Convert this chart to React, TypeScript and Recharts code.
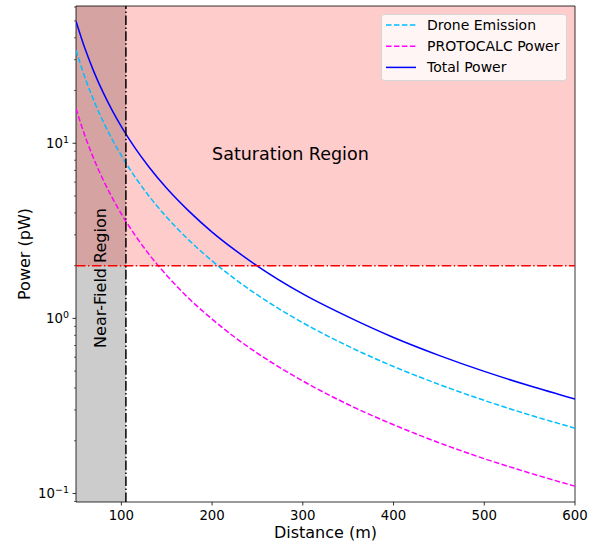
import React from 'react';
import {
  LineChart,
  Line,
  XAxis,
  YAxis,
  ReferenceArea,
  ReferenceLine,
  ReferenceDot,
  Legend,
  Label,
} from 'recharts';

const distance = [50, 60, 70, 80, 90, 100, 115, 130, 150, 175, 200, 225, 250, 300, 350, 400, 450, 500, 550, 600];
const droneEmission = [34.0, 23.6, 17.35, 13.28, 10.49, 8.5, 6.43, 5.03, 3.78, 2.78, 2.13, 1.68, 1.36, 0.944, 0.694, 0.531, 0.42, 0.34, 0.281, 0.236];
const protocalcPower = [15.8, 10.97, 8.06, 6.17, 4.88, 3.95, 2.99, 2.34, 1.76, 1.29, 0.99, 0.78, 0.632, 0.439, 0.322, 0.247, 0.195, 0.158, 0.131, 0.11];
const totalPower = [49.8, 34.6, 25.4, 19.45, 15.37, 12.45, 9.41, 7.37, 5.53, 4.07, 3.11, 2.46, 1.99, 1.38, 1.02, 0.778, 0.615, 0.498, 0.412, 0.346];

const xTicks = [100, 200, 300, 400, 500, 600];
const yTicks = [
  0.09, 0.1, 0.2, 0.3, 0.4, 0.5, 0.6, 0.7, 0.8, 0.9,
  1, 2, 3, 4, 5, 6, 7, 8, 9,
  10, 20, 30, 40, 50, 60,
];
const xDomain = [50, 600];
const yDomain = [0.0894, 60.8];
const nearFieldLimit = 105;
const saturationLevel = 2;

const data = distance.map((d, i) => ({
  distance: d,
  drone: droneEmission[i],
  protocalc: protocalcPower[i],
  total: totalPower[i],
}));

const FONT = '"DejaVu Sans", sans-serif';

const YTick = (props: any) => {
  const { x, y, payload } = props;
  const v = payload.value;
  const exp = Math.round(Math.log10(v));
  const isMajor = Math.abs(v - Math.pow(10, exp)) < 1e-9;
  if (!isMajor) {
    return <line x1={x - 2} x2={x} y1={y} y2={y} stroke="#000" strokeWidth={0.6} />;
  }
  const expStr = exp < 0 ? '\u2212' + Math.abs(exp) : String(exp);
  return (
    <g>
      <line x1={x - 3.5} x2={x} y1={y} y2={y} stroke="#000" strokeWidth={0.8} />
      <text x={x - 7} y={y + 5} textAnchor="end" fontSize={13.3} fontFamily={FONT} fill="#000">
        10
        <tspan dy={-5.5} fontSize={9.5}>{expStr}</tspan>
      </text>
    </g>
  );
};

const XTick = (props: any) => {
  const { x, y, payload } = props;
  return (
    <g>
      <line x1={x} x2={x} y1={y} y2={y + 3.5} stroke="#000" strokeWidth={0.8} />
      <text x={x} y={y + 17.5} textAnchor="middle" fontSize={13.3} fontFamily={FONT} fill="#000">
        {payload.value}
      </text>
    </g>
  );
};

const renderLegend = (props: any) => {
  const payload = props.payload || [];
  return (
    <svg width={187} height={68} style={{ display: 'block' }}>
      <rect x={0.5} y={0.5} width={185} height={66} rx={3} fill="#fff" fillOpacity={0.8} stroke="#d6d6d6" strokeWidth={1} />
      {payload.map((e: any, i: number) => {
        const cy = 11 + i * 21.2;
        return (
          <g key={i}>
            <line
              x1={5}
              x2={35}
              y1={cy}
              y2={cy}
              stroke={e.color}
              strokeWidth={1.5}
              strokeDasharray={e.payload && e.payload.strokeDasharray}
            />
            <text x={46} y={cy + 5} fontSize={14} fontFamily={FONT} fill="#000">
              {e.value}
            </text>
          </g>
        );
      })}
    </svg>
  );
};

export default function App() {
  return (
    <div style={{ position: 'absolute', left: 0, top: 0, background: '#fff' }}>
      <LineChart width={602} height={541} data={data} margin={{ top: 6, right: 27, bottom: 0, left: 0 }}>
        <XAxis
          dataKey="distance"
          type="number"
          domain={xDomain}
          ticks={xTicks}
          allowDataOverflow
          axisLine={false}
          tickLine={false}
          tickSize={0}
          tickMargin={0}
          height={39}
          tick={<XTick />}
          interval={0}
        >
          <Label
            content={() => (
              <text x={325.5} y={537.5} textAnchor="middle" fontSize={16} fontFamily={FONT} fill="#000">
                Distance (m)
              </text>
            )}
          />
        </XAxis>
        <YAxis
          type="number"
          scale="log"
          domain={yDomain}
          ticks={yTicks}
          allowDataOverflow
          axisLine={false}
          tickLine={false}
          tickSize={0}
          tickMargin={0}
          width={76}
          tick={<YTick />}
          interval={0}
        >
          <Label
            content={() => (
              <text
                x={30}
                y={254}
                textAnchor="middle"
                fontSize={16}
                fontFamily={FONT}
                fill="#000"
                transform="rotate(-90 30 254)"
              >
                Power (pW)
              </text>
            )}
          />
        </YAxis>

        <ReferenceArea
          x1={xDomain[0]}
          x2={nearFieldLimit}
          y1={yDomain[0]}
          y2={yDomain[1]}
          fill="#808080"
          fillOpacity={0.4}
          stroke="none"
          ifOverflow="hidden"
        />
        <ReferenceArea
          x1={xDomain[0]}
          x2={xDomain[1]}
          y1={saturationLevel}
          y2={yDomain[1]}
          fill="#ff0000"
          fillOpacity={0.2}
          stroke="none"
          ifOverflow="hidden"
        />

        <Line
          dataKey="drone"
          name="Drone Emission"
          type="monotone"
          stroke="#00bfff"
          strokeWidth={1.5}
          strokeDasharray="5.55 2.4"
          dot={false}
          activeDot={false}
          isAnimationActive={false}
        />
        <Line
          dataKey="protocalc"
          name="PROTOCALC Power"
          type="monotone"
          stroke="#ff00ff"
          strokeWidth={1.5}
          strokeDasharray="5.55 2.4"
          dot={false}
          activeDot={false}
          isAnimationActive={false}
        />
        <Line
          dataKey="total"
          name="Total Power"
          type="monotone"
          stroke="#0000ff"
          strokeWidth={1.5}
          dot={false}
          activeDot={false}
          isAnimationActive={false}
        />

        <ReferenceLine y={saturationLevel} stroke="#ff0000" strokeWidth={1.5} strokeDasharray="9.6 2.4 1.5 2.4" />
        <ReferenceLine x={nearFieldLimit} stroke="#000" strokeWidth={1.5} strokeDasharray="9.6 2.4 1.5 2.4" />

        <ReferenceArea
          x1={xDomain[0]}
          x2={xDomain[1]}
          y1={yDomain[0]}
          y2={yDomain[1]}
          fill="none"
          stroke="#000"
          strokeWidth={0.8}
        />

        <ReferenceDot
          x={200}
          y={8}
          r={0}
          shape={(p: any) => (
            <text x={p.cx} y={p.cy} textAnchor="start" fontSize={17.5} fontFamily={FONT} fill="#000">
              Saturation Region
            </text>
          )}
        />
        <ReferenceDot
          x={77.5}
          y={1.7}
          r={0}
          shape={(p: any) => (
            <text
              x={p.cx}
              y={p.cy}
              textAnchor="middle"
              dominantBaseline="central"
              fontSize={16}
              fontFamily={FONT}
              fill="#000"
              transform={`rotate(-90 ${p.cx} ${p.cy})`}
            >
              Near-Field Region
            </text>
          )}
        />

        <Legend
          layout="horizontal"
          verticalAlign="middle"
          align="center"
          content={renderLegend}
          wrapperStyle={{ position: 'absolute', left: 381, top: 14, width: 187, height: 68 }}
        />
      </LineChart>
    </div>
  );
}
